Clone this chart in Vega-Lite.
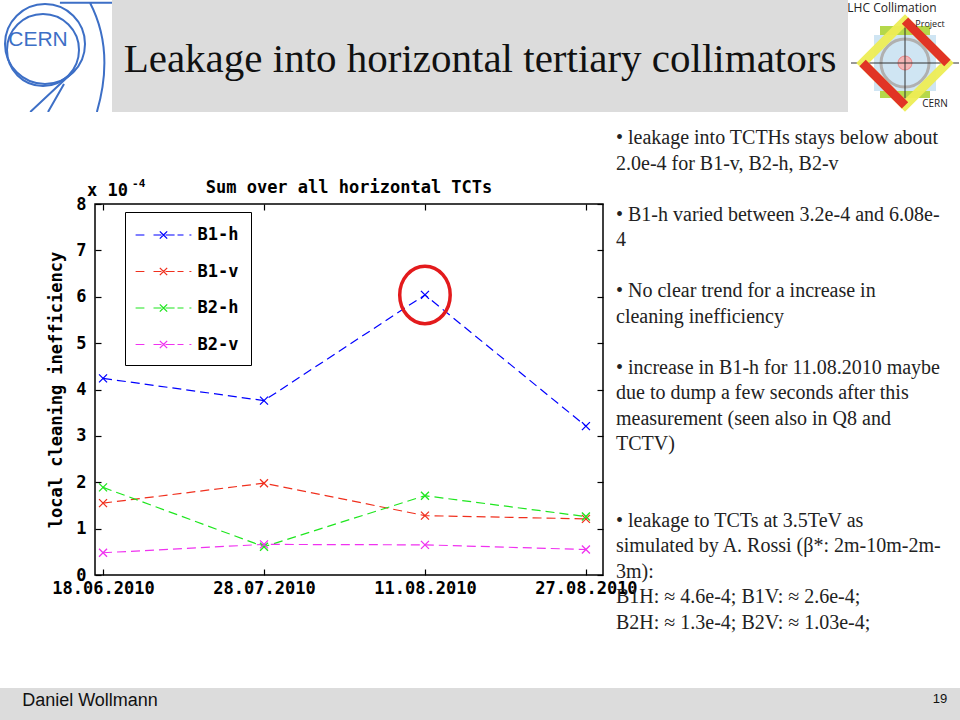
{
  "$schema": "https://vega.github.io/schema/vega-lite/v6.json",
  "padding": 0,
  "background": "white",
  "spacing": 16,
  "config": {"view": {"stroke": null}},
  "resolve": {"scale": {"color": "independent"}, "legend": {"color": "independent"}},
  "datasets": {
    "ineff": [
      {"date": "18.06.2010", "series": "B1-h", "ineff": 0.000424},
      {"date": "28.07.2010", "series": "B1-h", "ineff": 0.000376},
      {"date": "11.08.2010", "series": "B1-h", "ineff": 0.000604},
      {"date": "27.08.2010", "series": "B1-h", "ineff": 0.000321},
      {"date": "18.06.2010", "series": "B1-v", "ineff": 0.000155},
      {"date": "28.07.2010", "series": "B1-v", "ineff": 0.000198},
      {"date": "11.08.2010", "series": "B1-v", "ineff": 0.000128},
      {"date": "27.08.2010", "series": "B1-v", "ineff": 0.000121},
      {"date": "18.06.2010", "series": "B2-h", "ineff": 0.000189},
      {"date": "28.07.2010", "series": "B2-h", "ineff": 0.000061},
      {"date": "11.08.2010", "series": "B2-h", "ineff": 0.000171},
      {"date": "27.08.2010", "series": "B2-h", "ineff": 0.000126},
      {"date": "18.06.2010", "series": "B2-v", "ineff": 0.000048},
      {"date": "28.07.2010", "series": "B2-v", "ineff": 0.000066},
      {"date": "11.08.2010", "series": "B2-v", "ineff": 0.000065},
      {"date": "27.08.2010", "series": "B2-v", "ineff": 0.000055}
    ]
  },
  "vconcat": [
    {
      "hconcat": [
        {
          "width": 112, "height": 112,
          "data": {"values": [{}]},
          "layer": [
            {"mark": {"type": "point", "shape": "circle", "size": 6400, "filled": false, "stroke": "#3d6fc6", "strokeWidth": 2, "opacity": 1, "xOffset": -11, "yOffset": -12, "clip": true}},
            {"mark": {"type": "point", "shape": "circle", "size": 5184, "filled": false, "stroke": "#3d6fc6", "strokeWidth": 2, "opacity": 1, "xOffset": -13, "yOffset": -6, "clip": true}},
            {"mark": {"type": "point", "shape": "M0.607,-0.95Q1.05,-0.1,0.73,1M0.34,0.25L-0.46,1M0.143,0.5L-0.143,1M0.07,-0.95L1,-0.95", "size": 12544, "filled": false, "stroke": "#3d6fc6", "strokeWidth": 2, "opacity": 1, "clip": true}},
            {"mark": {"type": "text", "text": "CERN", "font": "Liberation Sans", "fontSize": 21, "color": "#3d6fc6", "baseline": "middle", "dx": -18, "dy": -16, "clip": true}}
          ]
        },
        {
          "width": 736, "height": 112,
          "view": {"fill": "#dcdcdc", "stroke": null},
          "data": {"values": [{}]},
          "mark": {"type": "text", "text": "Leakage into horizontal tertiary collimators", "font": "Liberation Serif", "fontSize": 41, "color": "#111111", "baseline": "alphabetic", "dy": 16}
        },
        {
          "width": 112, "height": 112,
          "view": {"fill": "white", "stroke": null},
          "data": {"values": [{}]},
          "layer": [
            {"mark": {"type": "point", "shape": "M-1,-1.44H1V1.44H-1Z", "size": 2500, "filled": true, "fill": "#b5d84a", "strokeWidth": 0, "opacity": 1, "xOffset": 1, "yOffset": 6, "clip": true}},
            {"mark": {"type": "point", "shape": "M-1.24,-1.12H1.24V1.12H-1.24Z", "size": 2500, "filled": true, "fill": "#cfe5f3", "strokeWidth": 0, "opacity": 1, "xOffset": 1, "yOffset": 7, "clip": true}},
            {"mark": {"type": "point", "shape": "circle", "size": 2304, "filled": false, "stroke": "#b0b0b0", "strokeWidth": 3, "opacity": 1, "xOffset": 1, "yOffset": 7, "clip": true}},
            {"mark": {"type": "point", "shape": "circle", "size": 196, "filled": true, "fill": "#f5b5b5", "stroke": "#e88888", "strokeWidth": 1, "opacity": 1, "xOffset": 1, "yOffset": 7, "clip": true}},
            {"mark": {"type": "point", "shape": "M-1,0H1M0,-0.8V0.8", "size": 11664, "filled": false, "stroke": "#333333", "strokeWidth": 1, "opacity": 1, "xOffset": 1, "yOffset": 7, "clip": true}},
            {"mark": {"type": "point", "shape": "square", "size": 3600, "angle": 45, "filled": false, "stroke": "#eeee55", "strokeWidth": 9, "opacity": 0.95, "xOffset": 1, "yOffset": 7, "clip": true}},
            {"mark": {"type": "point", "shape": "square", "size": 3600, "angle": 45, "filled": false, "stroke": "#e02020", "strokeWidth": 9, "strokeDash": [60, 60], "opacity": 0.9, "xOffset": 1, "yOffset": 7, "clip": true}},
            {"mark": {"type": "text", "text": "LHC Collimation", "font": "Open Sans", "fontSize": 12, "color": "#222222", "baseline": "middle", "dx": -12, "dy": -48, "clip": true}},
            {"mark": {"type": "text", "text": "Project", "font": "Open Sans", "fontSize": 9, "color": "#222222", "baseline": "middle", "dx": 26, "dy": -32, "clip": true}},
            {"mark": {"type": "text", "text": "CERN", "font": "Open Sans", "fontSize": 10, "color": "#222222", "baseline": "middle", "dx": 31, "dy": 48, "clip": true}}
          ]
        }
      ],
      "spacing": 0,
      "bounds": "flush"
    },
    {
      "hconcat": [
        {
          "width": 83, "height": 468,
          "data": {"values": [{}]},
          "mark": {"type": "text", "text": ""}
        },
        {
          "width": 508, "height": 371,
          "view": {"stroke": "black", "strokeWidth": 1.5},
          "title": {"text": "Sum over all horizontal TCTs", "font": "DejaVu Sans Mono", "fontSize": 17, "fontWeight": "bold", "color": "black", "offset": -19},
          "data": {"name": "ineff"},
          "layer": [
            {
              "transform": [{"filter": "false"}],
              "mark": {"type": "line", "strokeWidth": 1.2},
              "encoding": {
                "x": {"field": "date", "type": "ordinal", "sort": ["18.06.2010", "28.07.2010", "11.08.2010", "27.08.2010"], "scale": {"type": "point", "domain": ["18.06.2010", "28.07.2010", "11.08.2010", "27.08.2010"], "padding": 0.078, "align": 0.32}, "axis": null},
                "y": {"field": "ineff", "type": "quantitative", "scale": {"domain": [0, 0.0008], "nice": false, "zero": true}, "axis": null},
                "color": {
                  "field": "series", "type": "nominal",
                  "scale": {"domain": ["B1-h", "B1-v", "B2-h", "B2-v"], "range": ["#0000ff", "#f0301e", "#1ee61e", "#f032f0"]},
                  "legend": {
                    "title": null, "orient": "none", "legendX": 30, "legendY": 8,
                    "symbolType": "M-2.79,0H-1.91M-1,0H-0.2M0.2,0H1.11M1.4,0H2M2.59,0H2.79M0,0L0.37,0.37M0,0L-0.37,0.37M0,0L0.37,-0.37M0,0L-0.37,-0.37",
                    "symbolSize": 400, "symbolStrokeWidth": 1.2, "symbolOffset": 15.5,
                    "strokeColor": "black", "fillColor": "white", "padding": 12,
                    "labelFont": "DejaVu Sans Mono", "labelFontSize": 17, "labelFontWeight": "bold", "labelColor": "black",
                    "labelOffset": 23, "rowPadding": 17.5
                  }
                }
              }
            },
            {
              "mark": {"type": "line", "strokeDash": [9, 5], "strokeWidth": 1.2},
              "encoding": {
                "x": {"field": "date", "type": "ordinal", "sort": ["18.06.2010", "28.07.2010", "11.08.2010", "27.08.2010"], "scale": {"type": "point", "domain": ["18.06.2010", "28.07.2010", "11.08.2010", "27.08.2010"], "padding": 0.078, "align": 0.32},
                  "axis": {"orient": "bottom", "title": null, "domain": false, "grid": false, "tickSize": -6, "tickColor": "black", "tickWidth": 1.2, "labelPadding": 11, "labelAngle": 0, "labelFont": "DejaVu Sans Mono", "labelFontSize": 17, "labelFontWeight": "bold", "labelColor": "black"}},
                "y": {"field": "ineff", "type": "quantitative", "scale": {"domain": [0, 0.0008], "nice": false, "zero": true},
                  "axis": {"orient": "left", "title": "local cleaning inefficiency", "values": [0, 0.0001, 0.0002, 0.0003, 0.0004, 0.0005, 0.0006, 0.0007, 0.0008], "labelExpr": "format(datum.value*10000, 'd')", "domain": false, "grid": false, "tickSize": -6, "tickColor": "black", "tickWidth": 1.2, "labelPadding": 15, "labelFont": "DejaVu Sans Mono", "labelFontSize": 17, "labelFontWeight": "bold", "labelColor": "black", "titleFont": "DejaVu Sans Mono", "titleFontSize": 17, "titleFontWeight": "bold", "titleColor": "black", "titlePadding": 10}},
                "color": {"field": "series", "type": "nominal", "legend": null}
              }
            },
            {
              "mark": {"type": "point", "shape": "M-1,-1L1,1M-1,1L1,-1", "size": 64, "filled": false, "strokeWidth": 1.3, "opacity": 1},
              "encoding": {
                "x": {"field": "date", "type": "ordinal", "sort": ["18.06.2010", "28.07.2010", "11.08.2010", "27.08.2010"], "scale": {"type": "point", "domain": ["18.06.2010", "28.07.2010", "11.08.2010", "27.08.2010"], "padding": 0.078, "align": 0.32},
                  "axis": {"orient": "top", "title": null, "labels": false, "domain": false, "grid": false, "tickSize": -6, "tickColor": "black", "tickWidth": 1.2}},
                "y": {"field": "ineff", "type": "quantitative", "scale": {"domain": [0, 0.0008], "nice": false, "zero": true},
                  "axis": {"orient": "right", "title": null, "labels": false, "values": [0, 0.0001, 0.0002, 0.0003, 0.0004, 0.0005, 0.0006, 0.0007, 0.0008], "domain": false, "grid": false, "tickSize": -6, "tickColor": "black", "tickWidth": 1.2}},
                "color": {"field": "series", "type": "nominal", "legend": null}
              }
            },
            {
              "transform": [{"filter": "datum.series === 'B1-h' && datum.date === '11.08.2010'"}],
              "mark": {"type": "point", "shape": "M-0.878,0A0.878,1,0,1,0,0.878,0A0.878,1,0,1,0,-0.878,0Z", "size": 3306, "filled": false, "stroke": "#e31a1c", "strokeWidth": 3.5, "opacity": 1},
              "encoding": {
                "x": {"field": "date", "type": "ordinal", "sort": ["18.06.2010", "28.07.2010", "11.08.2010", "27.08.2010"], "scale": {"type": "point", "domain": ["18.06.2010", "28.07.2010", "11.08.2010", "27.08.2010"], "padding": 0.078, "align": 0.32}, "axis": null},
                "y": {"field": "ineff", "type": "quantitative", "scale": {"domain": [0, 0.0008], "nice": false, "zero": true}, "axis": null}
              }
            },
            {
              "transform": [{"filter": "datum.series === 'B1-h' && datum.date === '18.06.2010'"}],
              "mark": {"type": "text", "text": "x 10", "font": "DejaVu Sans Mono", "fontSize": 17, "fontWeight": "bold", "color": "black", "align": "left", "baseline": "alphabetic", "dx": -16, "dy": -8},
              "encoding": {
                "x": {"field": "date", "type": "ordinal", "sort": ["18.06.2010", "28.07.2010", "11.08.2010", "27.08.2010"], "scale": {"type": "point", "domain": ["18.06.2010", "28.07.2010", "11.08.2010", "27.08.2010"], "padding": 0.078, "align": 0.32}, "axis": null},
                "y": {"datum": 0.0008, "type": "quantitative", "axis": null}
              }
            },
            {
              "transform": [{"filter": "datum.series === 'B1-h' && datum.date === '18.06.2010'"}],
              "mark": {"type": "text", "text": "-4", "font": "DejaVu Sans Mono", "fontSize": 11, "fontWeight": "bold", "color": "black", "align": "left", "baseline": "alphabetic", "dx": 29, "dy": -17},
              "encoding": {
                "x": {"field": "date", "type": "ordinal", "sort": ["18.06.2010", "28.07.2010", "11.08.2010", "27.08.2010"], "scale": {"type": "point", "domain": ["18.06.2010", "28.07.2010", "11.08.2010", "27.08.2010"], "padding": 0.078, "align": 0.32}, "axis": null},
                "y": {"datum": 0.0008, "type": "quantitative", "axis": null}
              }
            }
          ],
          "resolve": {"axis": {"x": "independent", "y": "independent"}}
        },
        {
          "width": 2, "height": 2,
          "data": {"values": [{}]},
          "layer": [
            {"mark": {"type": "text", "text": ["• leakage into TCTHs stays below about", "2.0e-4 for B1-v, B2-h, B2-v"], "align": "left", "baseline": "top", "font": "Liberation Serif", "fontSize": 20, "lineHeight": 25.5, "color": "#222222", "dy": -77}},
            {"mark": {"type": "text", "text": ["• B1-h varied between 3.2e-4 and 6.08e-", "4"], "align": "left", "baseline": "top", "font": "Liberation Serif", "fontSize": 20, "lineHeight": 25.5, "color": "#222222", "dy": -0.5}},
            {"mark": {"type": "text", "text": ["• No clear trend for a increase in", "cleaning inefficiency"], "align": "left", "baseline": "top", "font": "Liberation Serif", "fontSize": 20, "lineHeight": 25.5, "color": "#222222", "dy": 76}},
            {"mark": {"type": "text", "text": ["• increase in B1-h for 11.08.2010 maybe", "due to dump a few seconds after this", "measurement (seen also in Q8 and", "TCTV)"], "align": "left", "baseline": "top", "font": "Liberation Serif", "fontSize": 20, "lineHeight": 25.5, "color": "#222222", "dy": 152.5}},
            {"mark": {"type": "text", "text": ["• leakage to TCTs at 3.5TeV as", "simulated by A. Rossi (β*: 2m-10m-2m-", "3m):", "B1H: ≈ 4.6e-4; B1V: ≈ 2.6e-4;", "B2H: ≈ 1.3e-4; B2V: ≈ 1.03e-4;"], "align": "left", "baseline": "top", "font": "Liberation Serif", "fontSize": 20, "lineHeight": 25.5, "color": "#222222", "dy": 305.5}}
          ]
        }
      ],
      "spacing": 12,
      "bounds": "flush",
      "resolve": {"scale": {"color": "independent"}, "legend": {"color": "independent"}}
    },
    {
      "hconcat": [
        {
          "width": 180, "height": 33,
          "view": {"fill": "#dcdcdc", "stroke": null},
          "data": {"values": [{}]},
          "mark": {"type": "text", "text": "Daniel Wollmann", "font": "Liberation Sans", "fontSize": 18, "color": "#111111", "baseline": "middle", "dy": -4}
        },
        {
          "width": 740, "height": 33,
          "view": {"fill": "#dcdcdc", "stroke": null},
          "data": {"values": [{}]},
          "mark": {"type": "text", "text": ""}
        },
        {
          "width": 40, "height": 33,
          "view": {"fill": "#dcdcdc", "stroke": null},
          "data": {"values": [{}]},
          "mark": {"type": "text", "text": "19", "font": "Liberation Sans", "fontSize": 13, "color": "#111111", "baseline": "middle", "dy": -6}
        }
      ],
      "spacing": 0,
      "bounds": "flush"
    }
  ]
}
